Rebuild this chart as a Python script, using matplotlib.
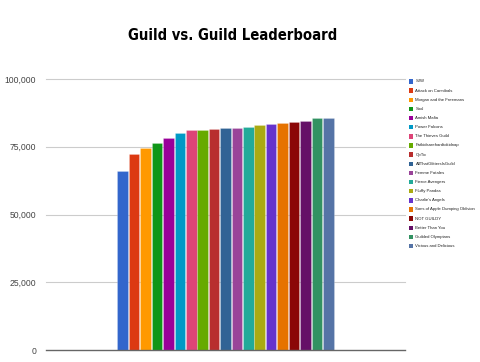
import matplotlib
matplotlib.use("Agg")
import matplotlib.pyplot as plt
from matplotlib.patches import Rectangle
from matplotlib import font_manager

guilds = [
    "SJW", "Attack on Cannibals", "Morgan and the Freemans", "Sool",
    "Amish Mafia", "Power Falcons", "The Thieves Guild", "Fatkidsarehardtokidnap",
    "OpTic", "AllThatGlittersIsGuild", "Femme Fatales", "Fierce Avengers",
    "Fluffy Pandas", "Charlie's Angels", "Sons of Apple Dumping Oblivion",
    "NOT GUILDY", "Better Than You", "Guilded Olympians", "Vicious and Delicious",
]
scores = [
    66200, 72300, 74400, 76500, 78100, 80200, 81100, 81100,
    81700, 81900, 81900, 82400, 82900, 83300, 83650,
    84000, 84500, 85700, 85700,
]
colors = [
    "#3366cc", "#dc3912", "#ff9900", "#109618", "#990099", "#0099c6",
    "#dd4477", "#66aa00", "#b82e2e", "#316395", "#994499", "#22aa99",
    "#aaaa11", "#6633cc", "#e67300", "#8b0707", "#651067", "#329262",
    "#5574a6",
]
yticks = [0, 25000, 50000, 75000, 100000]
ytick_labels = ["0", "25,000", "50,000", "75,000", "100,000"]

W, H = 481, 362
fig = plt.figure(figsize=(W / 100, H / 100), dpi=100)
fig.patch.set_facecolor("white")

ax = fig.add_axes([46 / W, (H - 350) / H, 359 / W, (350 - 79) / H])
ax.set_facecolor("white")

n = len(scores)
xs = list(range(n))
ax.bar(xs, scores, width=0.93, color=colors, edgecolor=(1, 1, 1, 0.35),
       linewidth=0.4, zorder=3)

center = (n - 1) / 2
half = 359 / (217 / n) / 2
ax.set_xlim(center - half, center + half)
ax.set_ylim(0, 100000)

ax.set_yticks(yticks)
ax.set_yticklabels(ytick_labels, fontfamily="Liberation Sans", fontsize=6.2,
                   color="#444444")
ax.tick_params(axis="y", length=0, pad=7)
ax.set_xticks([])
for s in ax.spines.values():
    s.set_visible(False)
for v in yticks[1:]:
    ax.axhline(v, color="#cccccc", linewidth=0.8, zorder=1, clip_on=False)
ax.axhline(0, color="#666666", linewidth=1.0, zorder=4, clip_on=False)

# Legend: one colour swatch and name per guild, stacked on the right
top_y, step = 81.5, (246 - 81.5) / (n - 1)
for i, (name, c) in enumerate(zip(guilds, colors)):
    yc = top_y + i * step
    fig.add_artist(Rectangle((409 / W, (H - yc - 2.2) / H), 4.2 / W, 4.4 / H,
                             transform=fig.transFigure, facecolor=c,
                             edgecolor="none"))
    fig.text(415.5 / W, (H - yc) / H, name, fontsize=3.1,
             fontfamily="Liberation Sans", color="#222222", va="center",
             ha="left")

# Title in a condensed heavy face, sized to its printed width
title_font = font_manager.FontProperties(family="DejaVu Sans", weight="bold",
                                         stretch="condensed", size=14)
title = fig.text(232.7 / W, (H - 35) / H, "Guild vs. Guild Leaderboard",
                 fontproperties=title_font, ha="center", va="center",
                 color="black")
fig.canvas.draw()
bb = title.get_window_extent()
title.set_fontsize(14 * 210 / bb.width)

fig.savefig("out.png", dpi=100, facecolor="white")
